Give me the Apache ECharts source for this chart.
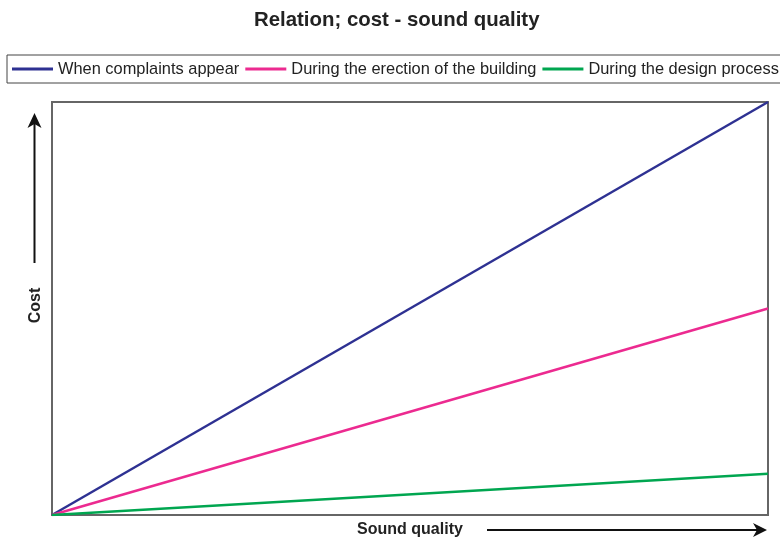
<!DOCTYPE html>
<html>
<head>
<meta charset="utf-8">
<title>Relation; cost - sound quality</title>
<script src="https://cdn.jsdelivr.net/npm/echarts@6/dist/echarts.min.js"></script>
<style>
  html, body { margin: 0; padding: 0; background: #fff; }
  #chart { width: 780px; height: 539px; }
</style>
</head>
<body>
<div id="chart"></div>
<script>
// sound quality (x) from low to high
var qualityLevels = [0, 1]
// cost (y) for each moment the acoustics get handled
var complaintsCost = [0, 1]
var erectionCost = [0, 0.5]
var designCost = [0, 0.1]

var seriesNames = ['When complaints appear', 'During the erection of the building', 'During the design process']
var seriesColors = ['#2e3192', '#ec2a90', '#00a650']

function pairs(ys) {
  return qualityLevels.map(function (x, i) { return [x, ys[i]] })
}

var chart = echarts.init(document.getElementById('chart'))

var lineSeries = [complaintsCost, erectionCost, designCost].map(function (ys, i) {
  return {
    name: seriesNames[i],
    type: 'line',
    symbol: 'none',
    data: pairs(ys),
    lineStyle: { width: 2.5, color: seriesColors[i] },
    itemStyle: { color: seriesColors[i] },
    animation: false
  }
})

chart.setOption({
  backgroundColor: '#fff',
  title: {
    text: 'Relation; cost - sound quality',
    left: 254,
    top: 10,
    padding: 0,
    textStyle: { fontFamily: 'Liberation Sans', fontSize: 20.4, fontWeight: 'bold', color: '#222' }
  },
  legend: {
    left: 7,
    top: 55,
    width: 820,
    padding: [6, 10, 6, 5],
    borderColor: '#444',
    borderWidth: 1,
    icon: 'rect',
    itemWidth: 41,
    itemHeight: 3,
    itemGap: 6,
    textStyle: { fontFamily: 'Liberation Sans', fontSize: 16.4, color: '#222' },
    data: seriesNames
  },
  grid: {
    left: 52,
    right: 12,
    top: 102,
    bottom: 24,
    outerBoundsMode: 'none',
    show: true,
    borderColor: '#666',
    borderWidth: 2
  },
  xAxis: {
    type: 'value',
    min: 0,
    max: 1,
    name: 'Sound quality',
    nameLocation: 'middle',
    nameGap: 7,
    nameTextStyle: { fontFamily: 'Liberation Sans', fontSize: 16, fontWeight: 'bold', color: '#222' },
    axisLine: { show: false },
    axisTick: { show: false },
    axisLabel: { show: false },
    splitLine: { show: false }
  },
  yAxis: {
    type: 'value',
    min: 0,
    max: 1,
    name: 'Cost',
    nameLocation: 'middle',
    nameRotate: 90,
    nameGap: 8,
    nameTextStyle: { fontFamily: 'Liberation Sans', fontSize: 16, fontWeight: 'bold', color: '#222', padding: [0, 0, 0, 6] },
    axisLine: { show: false },
    axisTick: { show: false },
    axisLabel: { show: false },
    splitLine: { show: false }
  },
  // the two direction arrows beside the axis names
  graphic: [
    { type: 'line', shape: { x1: 34.5, y1: 263, x2: 34.5, y2: 122 }, style: { stroke: '#111', lineWidth: 2 } },
    { type: 'polygon', shape: { points: [[34.5, 113], [41.5, 128], [34.5, 124], [27.5, 128]] }, style: { fill: '#111' } },
    { type: 'line', shape: { x1: 487, y1: 530, x2: 758, y2: 530 }, style: { stroke: '#111', lineWidth: 2 } },
    { type: 'polygon', shape: { points: [[767, 530], [753, 537], [757, 530], [753, 523]] }, style: { fill: '#111' } }
  ],
  series: lineSeries
})
</script>
</body>
</html>
